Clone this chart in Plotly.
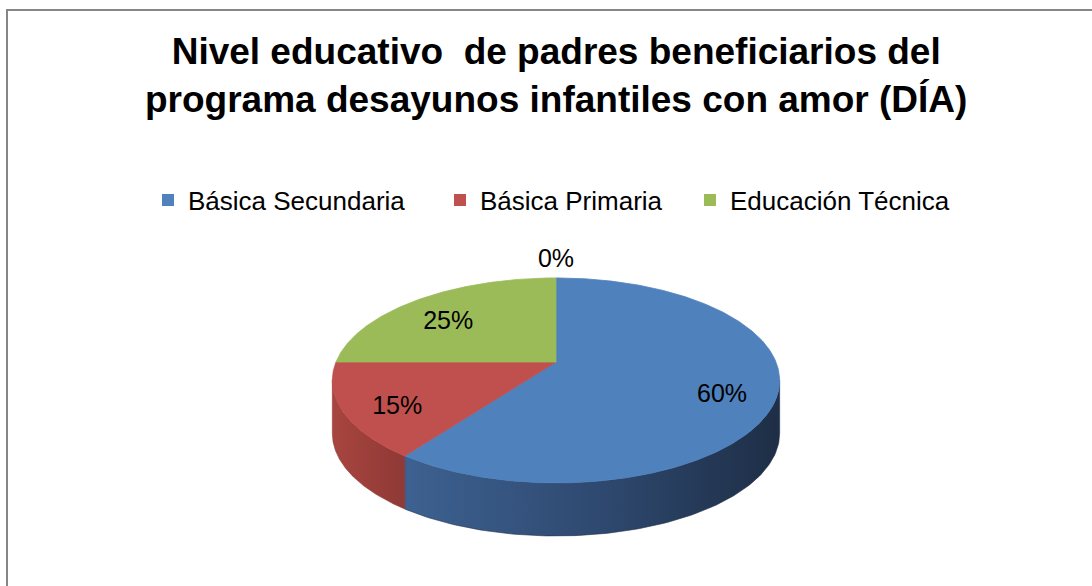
import numpy as np
import plotly.graph_objects as go

# ---------------- data ----------------
categories = ["Básica Secundaria", "Básica Primaria", "Educación Técnica", ""]
values = [60, 15, 25, 0]
top_colors = ["#4F81BD", "#C0504D", "#9BBB59", "#8064A2"]
side_scales = [
    [[0, "#3D6191"], [0.5, "#2F4A71"], [1, "#1E2E46"]],
    [[0, "#A8453F"], [1, "#8F3936"]],
    [[0, "#7D9A45"], [1, "#5E7434"]],
    [[0, "#654F83"], [1, "#4A3A61"]],
]
title_text = "Nivel educativo  de padres beneficiarios del<br>programa desayunos infantiles con amor (DÍA)"

# ---------------- geometry (pixel-like axes) ----------------
W, H = 1092, 586
CX, CY = 556, 362          # apex of the pie
A, B, K = 220, 99.2, 0.18  # semi axes and perspective factor
DEPTH = 53
FONT = "Liberation Sans, Arial, sans-serif"
LEGEND_X = [148, 440, 690]  # left edge of each legend entry (px)


def proj(theta_deg, f=1.0):
    t = np.radians(theta_deg)
    u = f * np.sin(t)
    v = f * np.cos(t)
    d = 1 + K * v
    return CX + A * u / d, CY - B * v / d


total = float(sum(values))
fracs = [v / total for v in values]
starts = np.concatenate([[0], np.cumsum(fracs)[:-1]]) * 360
ends = starts + np.array(fracs) * 360

theta_left = np.degrees(np.arccos(-K))          # right extreme of outline
theta_right = 360 - theta_left                  # left extreme of outline

fig = go.Figure()

# side walls
for i, (s, e) in enumerate(zip(starts, ends)):
    a0, a1 = max(s, theta_left), min(e, theta_right)
    if a1 - a0 <= 0.01:
        continue
    th = np.linspace(a0, a1, 120)
    xs, ys = proj(th)
    px = np.concatenate([xs, xs[::-1], xs[:1]])
    py = np.concatenate([ys, ys[::-1] + DEPTH, ys[:1]])
    fig.add_trace(go.Scatter(
        x=px, y=py, mode="lines", fill="toself",
        line=dict(width=0.6, color=side_scales[i][-1][1]),
        fillgradient=dict(type="horizontal", colorscale=side_scales[i]),
        hoverinfo="skip", showlegend=False))

# top faces
for i, (s, e) in enumerate(zip(starts, ends)):
    if e - s <= 0.01:
        continue
    th = np.linspace(s, e, max(int((e - s) * 2), 8))
    xs, ys = proj(th)
    px = np.concatenate([[CX], xs, [CX]])
    py = np.concatenate([[CY], ys, [CY]])
    fig.add_trace(go.Scatter(
        x=px, y=py, mode="lines", fill="toself",
        fillcolor=top_colors[i], line=dict(width=0.8, color=top_colors[i]),
        hoverinfo="skip", showlegend=False))

# data labels
lx, ly, lt = [], [], []
for i, (s, e) in enumerate(zip(starts, ends)):
    mid = (s + e) / 2 if e > s else s
    f = 0.76 if values[i] > 0 else 1.25
    x, y = proj(mid, f)
    if values[i] > 0:
        y += 9
    lx.append(x)
    ly.append(y)
    lt.append(f"{round(100 * values[i] / total)}%")
fig.add_trace(go.Scatter(
    x=lx, y=ly, mode="text", text=lt,
    textfont=dict(family=FONT, size=25, color="#000000"),
    hoverinfo="skip", showlegend=False))

# legend entries (one legend per entry so each can be placed like the original)
legend_layout = {}
k = 0
for i, name in enumerate(categories):
    if not name:
        continue
    lname = "legend" if k == 0 else f"legend{k + 1}"
    fig.add_trace(go.Scatter(
        x=[None], y=[None], mode="markers", name=name, legend=lname,
        marker=dict(symbol="square", size=12, color=top_colors[i])))
    legend_layout[lname] = dict(
        orientation="h", x=LEGEND_X[k] / W, xanchor="left", y=1 - 200 / H, yanchor="middle",
        font=dict(family=FONT, size=26, color="#000000"),
        bgcolor="rgba(0,0,0,0)", itemclick=False, itemdoubleclick=False)
    k += 1

fig.add_annotation(
    x=CX, y=75, xref="x", yref="y", text="<b>" + title_text + "</b>",
    showarrow=False, xanchor="center", yanchor="middle",
    font=dict(family=FONT, size=37, color="#000000"))

fig.add_shape(type="rect", xref="x", yref="y", x0=7, y0=10, x1=W + 40, y1=H + 40,
              line=dict(color="#868686", width=2), fillcolor="rgba(0,0,0,0)", layer="below")

fig.update_layout(
    width=W, height=H,
    margin=dict(l=0, r=0, t=0, b=0),
    paper_bgcolor="white", plot_bgcolor="white",
    xaxis=dict(range=[0, W], visible=False, fixedrange=True),
    yaxis=dict(range=[H, 0], visible=False, fixedrange=True),
    showlegend=True,
    font=dict(family=FONT),
    **legend_layout,
)

fig.write_html("out.html", config={"displayModeBar": False},
               post_script="document.body.style.margin='0';")
